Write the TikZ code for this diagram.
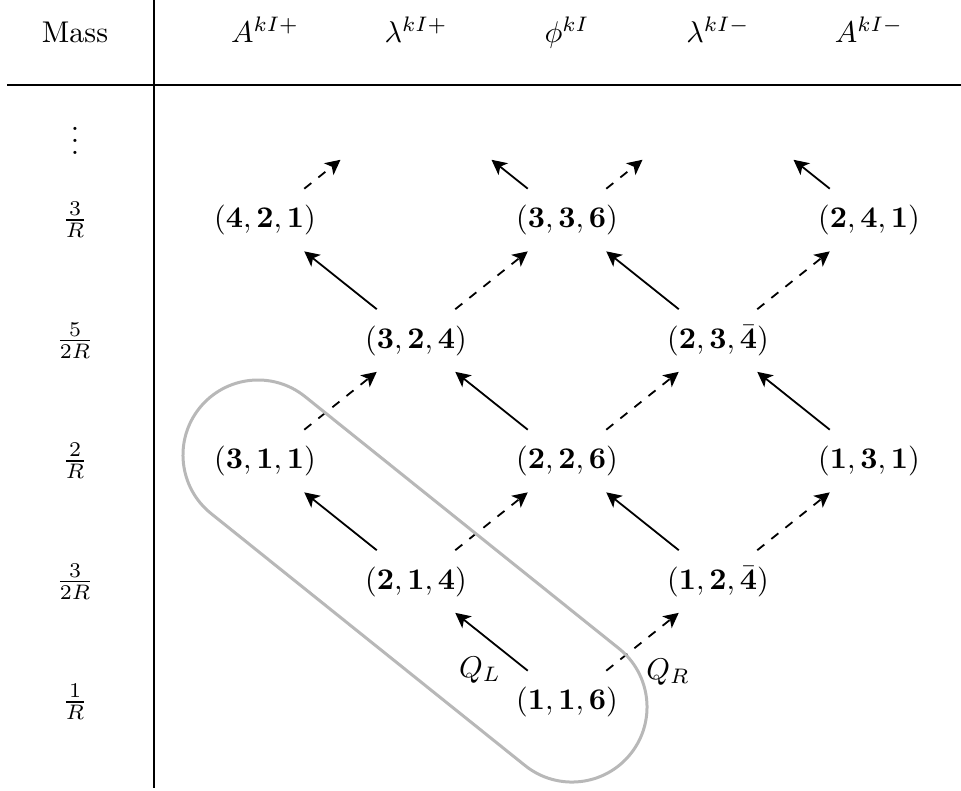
\documentclass[tikz,border=0pt]{standalone}
\usetikzlibrary{arrows.meta,calc}
\begin{document}
\begin{tikzpicture}[x=0.33333pt,y=-0.33333pt,
  sarrow/.style={-{Stealth[length=5pt,width=5pt,inset=1.3pt]},line width=0.6pt},
  darrow/.style={sarrow,dashed},
  tablerule/.style={line width=0.7pt},
  capsule/.style={draw=black!28,line width=1pt,rounded corners=25pt},
  rep/.style={inner sep=0pt}]
\useasboundingbox (0,0) rectangle (961,790);

% table rules
\coordinate (hl) at (7,85);
\coordinate (hr) at (961,85);
\coordinate (vt) at (154,0);
\coordinate (vb) at (154,788);
\draw[tablerule] (hl) -- (hr);
\draw[tablerule] (vt) -- (vb);

% header
\node[anchor=base] (hmass) at (75,42) {Mass};
\node[anchor=base] (h1) at (265,42) {$A^{kI+}$};
\node[anchor=base] (h2) at (416,42) {$\lambda^{kI+}$};
\node[anchor=base] (h3) at (567,42) {$\phi^{kI}$};
\node[anchor=base] (h4) at (718,42) {$\lambda^{kI-}$};
\node[anchor=base] (h5) at (869,42) {$A^{kI-}$};

% mass labels
\node (mdots) at (75,132) {$\vdots$};
\node (m0) at (75,220) {$\frac{3}{R}$};
\node (m1) at (75,340.5) {$\frac{5}{2R}$};
\node (m2) at (75,461) {$\frac{2}{R}$};
\node (m3) at (75,581.5) {$\frac{3}{2R}$};
\node (m4) at (75,702) {$\frac{1}{R}$};

% representations
\node[rep] (n421) at (265,220) {$(\mathbf{4},\mathbf{2},\mathbf{1})$};
\node[rep] (n336) at (567,220) {$(\mathbf{3},\mathbf{3},\mathbf{6})$};
\node[rep] (n241) at (869,220) {$(\mathbf{2},\mathbf{4},\mathbf{1})$};
\node[rep] (n324) at (416,340.5) {$(\mathbf{3},\mathbf{2},\mathbf{4})$};
\node[rep] (n234) at (718,340.5) {$(\mathbf{2},\mathbf{3},\bar{\mathbf{4}})$};
\node[rep] (n311) at (265,461) {$(\mathbf{3},\mathbf{1},\mathbf{1})$};
\node[rep] (n226) at (567,461) {$(\mathbf{2},\mathbf{2},\mathbf{6})$};
\node[rep] (n131) at (869,461) {$(\mathbf{1},\mathbf{3},\mathbf{1})$};
\node[rep] (n214) at (416,581.5) {$(\mathbf{2},\mathbf{1},\mathbf{4})$};
\node[rep] (n124) at (718,581.5) {$(\mathbf{1},\mathbf{2},\bar{\mathbf{4}})$};
\node[rep] (n116) at (567,702) {$(\mathbf{1},\mathbf{1},\mathbf{6})$};

% virtual next level
\coordinate (v1) at (416,99.5);
\coordinate (v2) at (718,99.5);

% solid (Q_L) arrows
\foreach \a/\b in {n116/n214, n124/n226, n214/n311, n226/n324, n131/n234, n324/n421, n234/n336}
  \draw[sarrow] ($(\a.center)!0.26!(\b.center)$) -- ($(\a.center)!0.74!(\b.center)$);
% dashed (Q_R) arrows
\foreach \a/\b in {n116/n124, n214/n226, n124/n131, n311/n324, n226/n234, n324/n336, n234/n241}
  \draw[darrow] ($(\a.center)!0.26!(\b.center)$) -- ($(\a.center)!0.74!(\b.center)$);
% top partial arrows
\draw[darrow] ($(n421.center)!0.26!(v1)$) -- ($(n421.center)!0.5!(v1)$);
\draw[sarrow] ($(n336.center)!0.26!(v1)$) -- ($(n336.center)!0.5!(v1)$);
\draw[darrow] ($(n336.center)!0.26!(v2)$) -- ($(n336.center)!0.5!(v2)$);
\draw[sarrow] ($(n241.center)!0.26!(v2)$) -- ($(n241.center)!0.5!(v2)$);

% generator labels
\node (ql) at (480,670) {$Q_L$};
\node (qr) at (668,672) {$Q_R$};

% capsule
\draw[capsule] (199.5,408.05) -- (246.45,349.55) -- (677.45,695.45) -- (583.55,812.45) -- (152.55,466.55) -- (199.5,408.05);
\end{tikzpicture}
\end{document}
